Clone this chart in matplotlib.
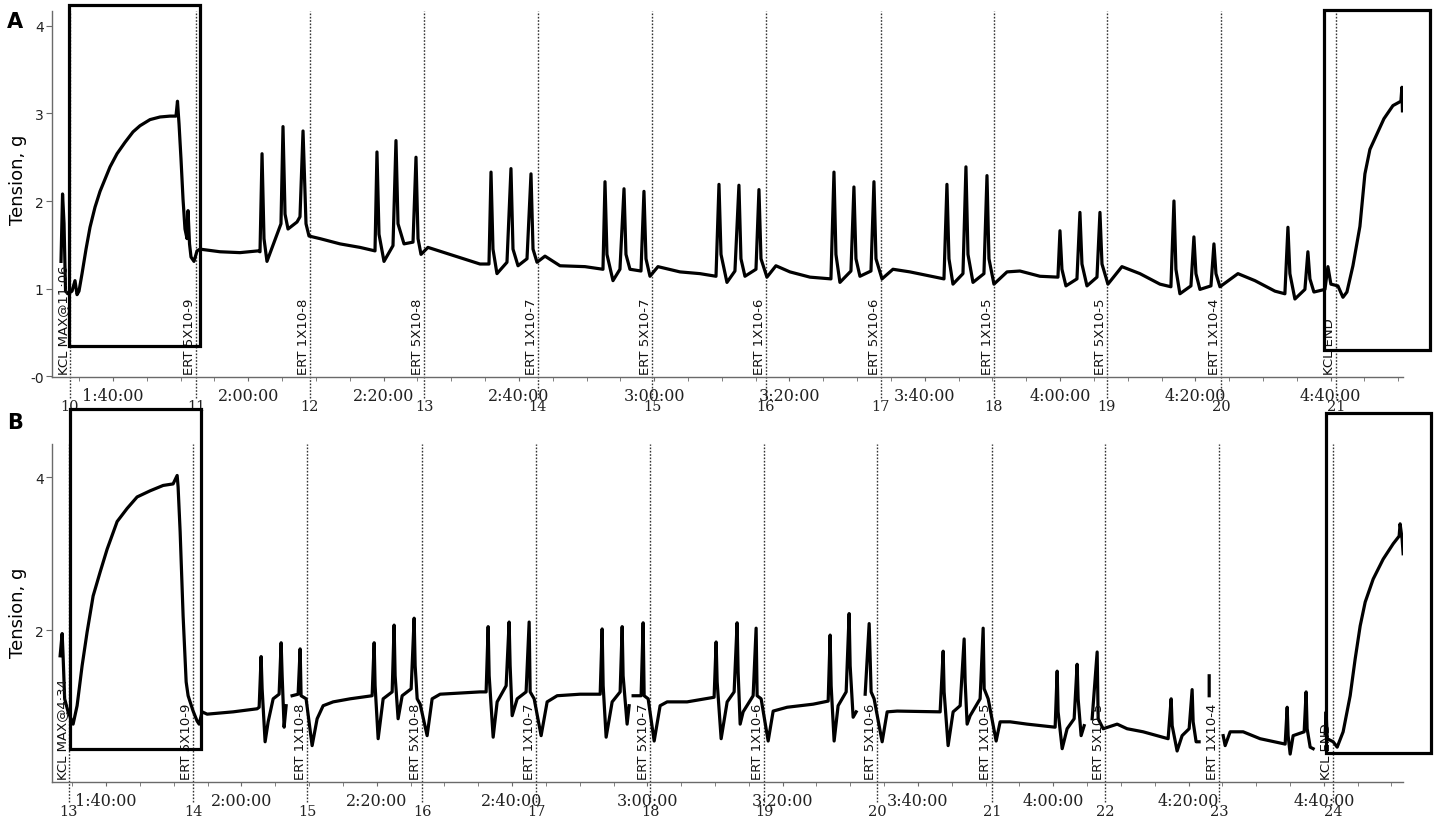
import matplotlib
matplotlib.use("Agg")
import matplotlib.pyplot as plt
import matplotlib.patches as patches
from matplotlib.transforms import blended_transform_factory
from matplotlib.ticker import MultipleLocator, FixedLocator

nan = float("nan")

# ---- trace A (time in minutes, tension in g) ----
a_time = [
    92.31, 92.54, 92.76, 92.98, 93.35, 93.94, 94.38, 94.68, 94.97, 95.42,
    96.01, 96.60, 97.34, 98.08, 98.82, 99.56, 100.59, 101.77, 102.96, 103.99,
    105.47, 106.95, 108.43, 109.31, 109.53, 109.76, 110.05, 110.35, 110.64, 110.94,
    111.09, 111.31, 111.53, 111.97, 112.42, 112.86, 115.82, 118.77, 121.43,
    121.73, 122.03, 122.32, 122.76, 124.39,
    124.83, 125.13, 125.43, 125.87, 127.20, 127.64,
    128.09, 128.53, 128.97, 130.60, 133.56, 136.51, 138.73,
    139.02, 139.32, 140.06, 141.39,
    141.83, 142.13, 143.02, 144.35,
    144.79, 145.09, 145.53, 146.56, 149.82, 154.25, 155.58,
    155.88, 156.17, 156.76, 158.24,
    158.83, 159.13, 159.87, 161.20,
    161.79, 162.09, 162.68, 163.86, 166.08, 169.77, 172.43,
    172.73, 173.02, 173.91, 174.94,
    175.54, 175.83, 176.42, 178.05,
    178.49, 178.79, 179.38, 180.56, 183.81, 186.77, 189.14,
    189.58, 189.88, 190.76, 191.94,
    192.53, 192.83, 193.42, 195.05,
    195.49, 195.79, 196.67, 198.00, 200.07, 203.03, 206.13,
    206.58, 206.87, 207.46, 209.09,
    209.53, 209.83, 210.42, 212.05,
    212.49, 212.79, 213.68, 215.30, 217.81, 222.84,
    223.28, 223.58, 224.17, 225.65,
    226.09, 226.39, 227.13, 228.75,
    229.20, 229.49, 230.23, 232.16, 234.07, 237.03, 239.69,
    239.99, 240.28, 240.87, 242.50,
    242.94, 243.24, 243.98, 245.46,
    245.90, 246.20, 247.08, 249.15, 251.81, 254.77, 256.39,
    256.84, 257.13, 257.72, 259.35,
    259.79, 260.09, 260.68, 262.31,
    262.75, 263.05, 263.64, 266.30, 268.81, 271.77, 273.24,
    273.69, 273.98, 274.72, 276.20,
    276.64, 276.94, 277.53, 279.16,
    279.60, 280.04, 281.08, 281.82, 282.41, 283.30, 284.33, 285.07, 285.81, 286.70,
    287.88, 289.21, 290.39, 290.54, 290.62,
]
a_tension = [
    1.31, 2.08, 1.74, 0.97, 0.94, 0.97, 1.09, 0.93, 0.97, 1.17,
    1.45, 1.70, 1.93, 2.11, 2.25, 2.39, 2.54, 2.67, 2.79, 2.86,
    2.93, 2.96, 2.97, 2.97, 3.14, 2.88, 2.48, 2.02, 1.68, 1.57,
    1.89, 1.51, 1.36, 1.31, 1.43, 1.45, 1.42, 1.41, 1.43,
    1.42, 2.54, 1.57, 1.31, 1.65,
    1.74, 2.85, 1.85, 1.68, 1.76, 1.82,
    2.80, 1.74, 1.60, 1.57, 1.51, 1.47, 1.43,
    2.56, 1.62, 1.31, 1.49,
    2.69, 1.74, 1.51, 1.53,
    2.50, 1.57, 1.39, 1.47, 1.39, 1.28, 1.28,
    2.33, 1.45, 1.17, 1.30,
    2.37, 1.45, 1.26, 1.34,
    2.31, 1.45, 1.30, 1.37, 1.26, 1.25, 1.22,
    2.22, 1.39, 1.09, 1.22,
    2.14, 1.39, 1.22, 1.20,
    2.11, 1.34, 1.14, 1.25, 1.19, 1.17, 1.14,
    2.19, 1.39, 1.07, 1.20,
    2.18, 1.34, 1.14, 1.22,
    2.13, 1.34, 1.13, 1.26, 1.19, 1.13, 1.11,
    2.33, 1.39, 1.07, 1.20,
    2.16, 1.34, 1.14, 1.20,
    2.22, 1.34, 1.11, 1.22, 1.19, 1.11,
    2.19, 1.34, 1.05, 1.17,
    2.39, 1.39, 1.07, 1.17,
    2.29, 1.34, 1.05, 1.19, 1.20, 1.14, 1.13,
    1.66, 1.22, 1.03, 1.11,
    1.87, 1.28, 1.03, 1.13,
    1.87, 1.28, 1.05, 1.25, 1.17, 1.05, 1.02,
    2.00, 1.22, 0.94, 1.03,
    1.59, 1.17, 0.99, 1.03,
    1.51, 1.17, 1.02, 1.17, 1.09, 0.97, 0.94,
    1.70, 1.17, 0.88, 0.99,
    1.42, 1.11, 0.96, 0.99,
    1.25, 1.05, 1.03, 0.90, 0.96, 1.26, 1.71, 2.31, 2.59, 2.74,
    2.94, 3.09, 3.14, 3.30, 3.03,
]

# ---- trace B ----
b_time = [
    93.20, 93.50, 93.64, 93.87, 94.38, 95.12, 95.71, 96.45, 97.19, 98.08,
    99.11, 100.15, 101.63, 103.10, 104.58, 106.50, 108.43, 109.90, 110.50, 110.64,
    110.94, 111.38, 111.83, 112.12, 112.86, 113.45, 113.75, 114.19, 114.93, 118.77,
    122.32,
    122.62, 122.91, 123.06, 123.50, 123.95, 124.69, 125.57,
    125.87, 126.02, 126.31, 126.61, nan, 127.49, 128.38,
    128.68, 128.82, 129.56, 130.45, 131.19, 132.08, 133.56, 136.07, 139.32,
    139.62, 139.76, 140.21, 140.95, 142.28,
    142.57, 142.72, 143.16, 143.76, 145.09,
    145.53, 145.68, 145.98, 146.42, 147.45, 148.19, 149.37, 155.28, 156.17,
    156.47, 156.62, 157.21, 157.80, 159.13,
    159.57, 159.72, 160.02, 160.76, 162.08,
    162.53, 162.68, 163.27, 164.30, 165.19, 166.67, 170.07, 173.03,
    173.32, 173.47, 173.91, 174.80, 175.98,
    176.28, 176.42, 177.01, 177.31, nan, 177.90, 179.08,
    179.38, 179.53, 180.12, 181.01, 181.89, 182.93, 185.88, 189.87,
    190.17, 190.32, 190.91, 191.80, 192.83,
    193.27, 193.42, 193.72, 194.16, 195.64,
    196.08, 196.23, 196.82, 197.86, 198.60, 200.67, 204.51, 206.73,
    207.02, 207.17, 207.61, 208.20, 209.39,
    209.83, 209.98, 210.42, 210.87, nan, 212.20,
    212.79, 213.08, 213.52, 214.71, 215.45, 216.93, 223.28,
    223.73, 223.87, 224.46, 225.20, 226.24,
    226.83, 226.98, 227.27, 227.72, 229.19,
    229.64, 229.79, 230.38, 231.56, 232.15, 233.63, 236.14, 240.28,
    240.58, 240.72, 241.32, 242.05, 243.09,
    243.53, 243.68, 244.12, 244.57, nan, 245.75,
    246.49, 246.64, 247.38, 249.45, 250.92, 253.29, 256.98,
    257.43, 257.58, 258.31, 259.05, 260.09,
    260.53, 260.68, 261.12, 261.56, nan, 263.05, 263.05, nan,
    265.12, 265.41, 266.15, 268.07, 270.58, 274.28,
    274.58, 274.72, 275.02, 275.46, 277.09,
    277.38, 277.53, 277.98, 278.42, nan,
    280.19, 280.34, 280.49, 281.38, 281.97, 282.85, 283.89, 284.63, 285.37, 286.11,
    287.29, 288.77, 290.25, 291.13, 291.27, 291.57, 291.72,
]
b_tension = [
    1.67, 1.96, 1.67, 1.11, 0.94, 0.78, 1.02, 1.54, 1.98, 2.45,
    2.76, 3.06, 3.42, 3.59, 3.74, 3.82, 3.89, 3.91, 4.02, 3.87,
    3.29, 2.19, 1.33, 1.15, 0.95, 0.82, 0.78, 0.94, 0.91, 0.94,
    0.98,
    1.00, 1.66, 1.24, 0.55, 0.81, 1.11, 1.17,
    1.84, 1.41, 0.74, 1.02, nan, 1.15, 1.17,
    1.76, 1.15, 1.11, 0.50, 0.85, 1.02, 1.07, 1.11, 1.15,
    1.84, 1.28, 0.59, 1.11, 1.20,
    2.07, 1.41, 0.85, 1.15, 1.24,
    2.16, 1.54, 1.11, 1.04, 0.63, 1.11, 1.17, 1.20, 1.20,
    2.05, 1.41, 0.61, 1.07, 1.28,
    2.11, 1.54, 0.89, 1.11, 1.20,
    2.11, 1.20, 1.11, 0.63, 1.07, 1.15, 1.17, 1.17,
    2.02, 1.28, 0.61, 1.07, 1.20,
    2.05, 1.41, 0.78, 1.02, nan, 1.15, 1.15,
    2.10, 1.15, 1.11, 0.56, 1.02, 1.07, 1.07, 1.13,
    1.85, 1.33, 0.59, 1.07, 1.20,
    2.10, 1.46, 0.78, 0.94, 1.15,
    2.03, 1.15, 1.11, 0.56, 0.95, 1.00, 1.04, 1.08,
    1.94, 1.28, 0.56, 1.02, 1.20,
    2.22, 1.54, 0.87, 0.94, nan, 1.17,
    2.09, 1.20, 1.11, 0.55, 0.94, 0.95, 0.94,
    1.73, 1.20, 0.50, 0.94, 1.02,
    1.89, 1.33, 0.78, 0.89, 1.11,
    2.03, 1.24, 1.11, 0.56, 0.81, 0.81, 0.78, 0.74,
    1.47, 0.94, 0.46, 0.72, 0.85,
    1.56, 1.11, 0.63, 0.76, nan, 0.85,
    1.72, 0.85, 0.72, 0.78, 0.72, 0.68, 0.59,
    1.11, 0.76, 0.43, 0.63, 0.72,
    1.23, 0.81, 0.55, 0.55, nan, 1.15, 1.41, nan,
    0.63, 0.50, 0.68, 0.68, 0.59, 0.52,
    1.00, 0.63, 0.39, 0.63, 0.68,
    1.20, 0.72, 0.48, 0.46, nan,
    0.65, 0.94, 0.59, 0.55, 0.48, 0.68, 1.15, 1.63, 2.06, 2.37,
    2.67, 2.93, 3.13, 3.23, 3.39, 3.19, 3.00,
]

# ---- event markers ----
a_event_time = [93.6, 112.3, 129.1, 146.0, 162.8, 179.7, 196.5, 213.5, 230.2, 246.9, 263.8, 280.8]
b_event_time = [94.5, 112.9, 129.7, 146.7, 163.6, 180.4, 197.3, 214.0, 231.0, 247.7, 264.5, 281.4]
ert_labels = ["ERT 5X10-9", "ERT 1X10-8", "ERT 5X10-8", "ERT 1X10-7", "ERT 5X10-7",
              "ERT 1X10-6", "ERT 5X10-6", "ERT 1X10-5", "ERT 5X10-5", "ERT 1X10-4", "KCL END"]
a_event_labels = ["KCL MAX@11:06"] + ert_labels
b_event_labels = ["KCL MAX@4:34"] + ert_labels
a_mark_numbers = list(range(10, 22))
b_mark_numbers = list(range(13, 25))

a_yticks = [0, 1, 2, 3, 4]
a_yticklabels = ["-0", "1", "2", "3", "4"]
b_yticks = [2, 4]
b_yticklabels = ["2", "4"]

# KCL boxes (time0, time1, tension0, tension1)
a_boxes = [(93.5, 112.86, 0.343, 4.24), (279.0, 294.7, 0.30, 4.18)]
b_boxes = [(94.68, 114.04, 0.456, 4.89), (280.34, 295.86, 0.40, 4.84)]

W, H = 1439, 828
AXIS_GREY = "#6a6a6a"


def time_label(m):
    return "%d:%02d:00" % (int(m // 60), int(m % 60))


def draw_panel(ax, t, v, xlim, ylim, yticks, yticklabels, ev_t, ev_lab, marks, boxes):
    ax.plot(t, v, color="black", lw=2.3, solid_joinstyle="round")
    ax.set_xlim(*xlim)
    ax.set_ylim(*ylim)

    for s in ["top", "right"]:
        ax.spines[s].set_visible(False)
    for s in ["left", "bottom"]:
        ax.spines[s].set_color(AXIS_GREY)
        ax.spines[s].set_linewidth(1.0)

    ax.xaxis.set_major_locator(FixedLocator(list(range(100, 300, 20))))
    ax.xaxis.set_minor_locator(MultipleLocator(5))
    ax.set_xticklabels([time_label(m) for m in range(100, 300, 20)],
                       fontfamily="DejaVu Serif", fontsize=11.5, color="#222222")
    ax.tick_params(axis="x", which="both", direction="out", length=3,
                   color=AXIS_GREY, pad=4)
    ax.set_yticks(yticks)
    ax.set_yticklabels(yticklabels, fontsize=10, color="#222222")
    ax.tick_params(axis="y", direction="out", length=4, color=AXIS_GREY, pad=2)

    trans = blended_transform_factory(ax.transData, ax.transAxes)
    for x, lab, n in zip(ev_t, ev_lab, marks):
        ax.plot([x, x], [-0.058, 1.0], transform=trans, color="#333333", lw=1.0,
                ls=(0, (1.2, 1.2)), clip_on=False, zorder=1)
        ax.text(x, 0.008, lab, transform=trans, rotation=90, ha="right", va="bottom",
                fontsize=9.5, color="#111111")
        ax.annotate(str(n), xy=(x, 0), xycoords=trans, xytext=(0, -21),
                    textcoords="offset points", ha="center", va="center",
                    fontfamily="DejaVu Serif", fontsize=10.5, color="#222222")

    for x0, x1, y0, y1 in boxes:
        ax.add_patch(patches.Rectangle((x0, y0), x1 - x0, y1 - y0, fill=False,
                                       ec="black", lw=2.3, clip_on=False, zorder=5))


fig = plt.figure(figsize=(W / 100, H / 100), dpi=100)

ax_a = fig.add_axes([52 / W, 1 - 378 / H, (1403 - 52) / W, (378 - 12) / H])
draw_panel(ax_a, a_time, a_tension, (90.98, 290.7), (-0.011, 4.171),
           a_yticks, a_yticklabels, a_event_time, a_event_labels, a_mark_numbers, a_boxes)

ax_b = fig.add_axes([52 / W, 1 - 783 / H, (1403 - 52) / W, (783 - 445) / H])
draw_panel(ax_b, b_time, b_tension, (92.0, 291.7), (0.026, 4.43),
           b_yticks, b_yticklabels, b_event_time, b_event_labels, b_mark_numbers, b_boxes)

fig.text(15 / W, 1 - 22 / H, "A", fontsize=15, fontweight="bold", ha="center", va="center")
fig.text(15 / W, 1 - 423 / H, "B", fontsize=15, fontweight="bold", ha="center", va="center")
fig.text(18 / W, 1 - 180 / H, "Tension, g", rotation=90, fontsize=13, ha="center", va="center")
fig.text(18 / W, 1 - 613 / H, "Tension, g", rotation=90, fontsize=13, ha="center", va="center")

fig.savefig("out.png", dpi=100)
